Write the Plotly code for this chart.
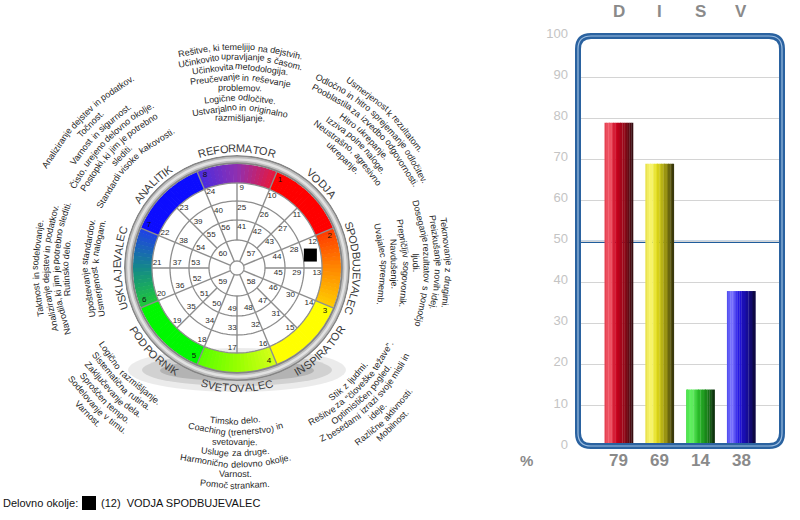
import math
import plotly.graph_objects as go

W, H = 800, 520
FONT = "Liberation Sans, Arial, sans-serif"

# ---------------- DISC bar chart data ----------------
categories = ["D", "I", "S", "V"]
values = [79, 69, 14, 38]
y_ticks = [0, 10, 20, 30, 40, 50, 60, 70, 80, 90, 100]
reference_level = 50
percent_label = "%"

# ---------------- wheel data ----------------
ring1_numbers = [9, 10, 11, 12, 13, 14, 15, 16, 17, 18, 19, 20, 21, 22, 23, 24]
ring2_numbers = [25, 26, 27, 28, 29, 30, 31, 32, 33, 34, 35, 36, 37, 38, 39, 40]
ring3_numbers = [41, 42, 43, 44, 45, 46, 47, 48, 49, 50, 51, 52, 53, 54, 55, 56]
ring4_numbers = [57, 58, 59, 60]
sector_numbers = [1, 2, 3, 4, 5, 6, 7, 8]
sector_roles = ["VODJA", "SPODBUJEVALEC", "INSPIRATOR", "SVETOVALEC",
                "PODPORNIK", "USKLAJEVALEC", "ANALITIK", "REFORMATOR"]

desc_vodja = ["Usmerjenost k rezultatom.", "Odločno in hitro sprejemanje odločitev.",
              "Pooblastila za izvedbo odgovornosti.", "Hitro ukrepanje.",
              "Izziva polne naloge.", "Neustrašno, agresivno", "ukrepanje."]
desc_spodbujevalec = ["Tekmovanje z drugimi.", "Preizkušanje novih idej.",
                      "Doseganje rezultatov s pomočjo", "ljudi.", "Prepričljiv sogovornik.",
                      "Navdušenje.", "Uvajalec sprememb."]
desc_inspirator = ["Stik z ljudmi.", "Rešitve za \"človeške težave\".", "Optimističen pogled.",
                   "Z besedami izrazi svoje misli in", "ideje.", "Različne aktivnosti.",
                   "Mobilnost."]
desc_svetovalec = ["Timsko delo.", "Coaching (trenerstvo) in", "svetovanje.",
                   "Usluge za druge.", "Harmonično delovno okolje.", "Varnost.",
                   "Pomoč strankam."]
desc_podpornik = ["Logično razmišljanje.", "Sistematična rutina.", "Zaključevanje dela.",
                  "Sproščen tempo.", "Sodelovanje v timu.", "Varnost."]
desc_usklajevalec = ["Taktnost in sodelovanje.", "Analiziranje dejstev in podatkov.",
                     "Navodila, ki jim je potrebno slediti.", "Rutinsko delo.", "",
                     "Upoštevanje standardov.", "Usmerjenost k nalogam."]
desc_analitik = ["Analiziranje dejstev in podatkov.", "Točnost.", "Varnost in sigurnost.",
                 "Čisto, urejeno delovno okolje.", "Postopki, ki jim je potrebno",
                 "slediti.", "Standardi visoke kakovosti."]
desc_reformator = ["Rešitve, ki temeljijo na dejstvih.", "Učinkovito upravljanje s časom.",
                   "Učinkovita metodologija.", "Preučevanje in reševanje", "problemov.",
                   "Logične odločitve.", "Ustvarjalno in originalno", "razmišljanje."]

result_position = 12
result_label = "VODJA SPODBUJEVALEC"
legend_title = "Delovno okolje:"

# ---------------- geometry / style ----------------
CX, CY = 237, 268
R_BEZEL, R_COLOR, R_WHITE = 113, 104, 85
GRID_RADII = [7, 28, 48, 67, 85]
NUM_R = [80, 60, 41.5, 20]
LABEL_R = 120

# per sector: first-line radius, line spacing, centre angle, facing
BLOCK_STYLE = [
    (217, 10.7, 46, "out"),
    (211, 10.8, 1.5, "out"),
    (160, 10.2, -45.5, "in"),
    (153, 10.7, -90.5, "in"),
    (154, 11.0, -135.5, "in"),
    (201, 10.0, 180, "out"),
    (216, 11.0, 135.5, "out"),
    (221, 10.2, 89, "out"),
]
sector_descriptions = [desc_vodja, desc_spodbujevalec, desc_inspirator, desc_svetovalec,
                       desc_podpornik, desc_usklajevalec, desc_analitik, desc_reformator]

# colours of the ring, from low angle to high angle inside each sector
SECTOR_GRAD = [
    ["#ff0000", "#ff0000", "#ff0000"],
    ["#ffcc00", "#ff8800", "#ff3a00"],
    ["#ffff00", "#ffff00", "#ffff00"],
    ["#58ff00", "#96ff00", "#d4ff18"],
    ["#00f800", "#00f800", "#00f800"],
    ["#2040e8", "#14888a", "#20c83a"],
    ["#0c0cff", "#0c0cff", "#0c0cff"],
    ["#e8183c", "#9030b0", "#4a2ce0"],
]

BAR_STOPS = {
    "D": [(0, "#e23a4c"), (0.18, "#f5606e"), (0.42, "#c8001c"), (0.72, "#8c0a18"), (1, "#2c0c10")],
    "I": [(0, "#e6de48"), (0.18, "#fbf978"), (0.42, "#e2dc1c"), (0.72, "#9a9410"), (1, "#2e2c0c")],
    "S": [(0, "#3ad83a"), (0.18, "#66f466"), (0.42, "#2cc02c"), (0.72, "#1a861a"), (1, "#0e280e")],
    "V": [(0, "#4a48ee"), (0.18, "#7b74ff"), (0.42, "#2214e0"), (0.72, "#160c98"), (1, "#0c0838")],
}

# Arial widths (1/1000 em)
AW = {" ": 278, ".": 278, ",": 278, ":": 278, "\"": 355, "(": 333, ")": 333, "-": 333}
for ch in "abdeghnopqu0123456789":
    AW[ch] = 556
for ch in "cksvxyzčšžć":
    AW[ch] = 500
AW.update({"f": 278, "t": 278, "i": 222, "j": 222, "l": 222, "r": 333, "m": 833, "w": 722})
AW.update({"A": 667, "B": 667, "C": 722, "D": 722, "E": 667, "F": 611, "G": 778, "H": 722,
           "I": 278, "J": 500, "K": 667, "L": 556, "M": 833, "N": 722, "O": 778, "P": 667,
           "R": 722, "S": 667, "T": 611, "U": 722, "V": 667, "Z": 611, "Č": 722, "Š": 667})


def text_width(s, size):
    return sum(AW.get(ch, 556) for ch in s) * size / 1000.0


def hex2rgb(h):
    h = h.lstrip("#")
    return [int(h[i:i + 2], 16) for i in (0, 2, 4)]


def mix(c1, c2, t):
    a, b = hex2rgb(c1), hex2rgb(c2)
    return "rgb(%d,%d,%d)" % tuple(round(a[i] + (b[i] - a[i]) * t) for i in range(3))


def interp_stops(stops, t):
    for (t0, c0), (t1, c1) in zip(stops[:-1], stops[1:]):
        if t <= t1:
            return mix(c0, c1, (t - t0) / (t1 - t0))
    return stops[-1][1]


def px2paper(x, y):
    return x / W, 1 - y / H


def norm_angle(a):
    while a > 180:
        a -= 360
    while a <= -180:
        a += 360
    return a


annotations = []
shapes = []


def add_arc_text(text, r, phi_c, facing, size, color, per_char=False):
    units = list(text) if per_char else text.split(" ")
    gap = 0 if per_char else AW[" "] * size / 1000.0
    widths = [text_width(u, size) for u in units]
    total = sum(widths) + gap * (len(units) - 1)
    s = -total / 2
    for u, wd in zip(units, widths):
        mid = s + wd / 2
        s += wd + gap
        if u.strip() == "":
            continue
        dphi = math.degrees(mid / r)
        if facing == "out":
            phi = phi_c - dphi
            rot = 90 - phi
        else:
            phi = phi_c + dphi
            rot = -90 - phi
        x = CX + r * math.cos(math.radians(phi))
        y = CY - r * math.sin(math.radians(phi))
        px, py = px2paper(x, y)
        annotations.append(dict(x=px, y=py, xref="paper", yref="paper", text=u,
                                showarrow=False, textangle=norm_angle(rot),
                                xanchor="center", yanchor="middle",
                                font=dict(family=FONT, size=size, color=color)))


fig = go.Figure()

# ---------------- wheel: shadow ----------------
for (x0, y0, x1, y1, op) in [(128, 348, 346, 392, 0.08), (142, 354, 332, 386, 0.11),
                             (160, 360, 314, 381, 0.14)]:
    a0 = px2paper(x0, y1)
    a1 = px2paper(x1, y0)
    shapes.append(dict(type="circle", xref="paper", yref="paper", x0=a0[0], y0=a0[1],
                       x1=a1[0], y1=a1[1], fillcolor="rgba(0,0,0,%.2f)" % op,
                       line=dict(width=0), layer="below"))

# ---------------- wheel: coloured ring ----------------
seg_theta, seg_color = [], []
NSEG = 20
for k in range(8):
    centre = 45 - 45 * k
    lo = centre - 22.5
    g = SECTOR_GRAD[k]
    stops = [(0, g[0]), (0.5, g[1]), (1, g[2])]
    for j in range(NSEG):
        t = (j + 0.5) / NSEG
        seg_theta.append(lo + t * 45)
        seg_color.append(interp_stops(stops, t))
fig.add_trace(go.Barpolar(theta=seg_theta, r=[R_COLOR - R_WHITE] * len(seg_theta),
                          base=R_WHITE, width=45 / NSEG + 0.35,
                          marker=dict(color=seg_color, line=dict(width=0)),
                          hoverinfo="skip", showlegend=False))

# bezel
for base, top, col in [(R_COLOR, R_BEZEL, "#858585"), (R_COLOR + 1.8, R_BEZEL - 1.6, "#bdbdbd"),
                       (R_COLOR + 3.4, R_BEZEL - 3.2, "#e2e2e2")]:
    fig.add_trace(go.Barpolar(theta=[0], r=[top - base], base=base, width=[360],
                              marker=dict(color=col, line=dict(width=0)),
                              hoverinfo="skip", showlegend=False))

# grid circles
circ_theta = [i * 2 for i in range(181)]
for rr in GRID_RADII:
    fig.add_trace(go.Scatterpolar(r=[rr] * len(circ_theta), theta=circ_theta, mode="lines",
                                  line=dict(color="#8e8e8e", width=1.3),
                                  hoverinfo="skip", showlegend=False))

# spokes: odd spokes reach the centre circle and the ring edge, even ones start at ring 2
sp_r, sp_t = [], []
for k in range(16):
    ang = 22.5 * k
    if k % 2 == 1:
        inner, outer = GRID_RADII[0], R_COLOR
    else:
        inner, outer = GRID_RADII[1], R_WHITE
    sp_r += [inner, outer, None]
    sp_t += [ang, ang, None]
fig.add_trace(go.Scatterpolar(r=sp_r, theta=sp_t, mode="lines",
                              line=dict(color="#8e8e8e", width=1.4),
                              hoverinfo="skip", showlegend=False, connectgaps=False))

# numbers
num_r, num_t, num_s = [], [], []
for ring, rr in zip([ring1_numbers, ring2_numbers, ring3_numbers], NUM_R[:3]):
    for k, n in enumerate(ring):
        spoke = 90 - 22.5 * k
        num_r.append(rr)
        num_t.append(spoke - math.degrees(4.8 / rr))
        num_s.append(str(n))
for k, n in enumerate(ring4_numbers):
    num_r.append(NUM_R[3])
    num_t.append(45 - 90 * k)
    num_s.append(str(n))
fig.add_trace(go.Scatterpolar(r=num_r, theta=num_t, text=num_s, mode="text",
                              textfont=dict(family=FONT, size=8, color="#2a2a2a"),
                              hoverinfo="skip", showlegend=False))

sec_r, sec_t, sec_s = [], [], []
for k, n in enumerate(sector_numbers):
    sec_r.append(98)
    sec_t.append(67.5 - 45 * k - 3.5)
    sec_s.append(str(n))
fig.add_trace(go.Scatterpolar(r=sec_r, theta=sec_t, text=sec_s, mode="text",
                              textfont=dict(family=FONT, size=8, color="#111111"),
                              hoverinfo="skip", showlegend=False))

# result marker in the cell of result_position
all_rings = [ring1_numbers, ring2_numbers, ring3_numbers]
for ri, ring in enumerate(all_rings):
    if result_position in ring:
        idx = ring.index(result_position)
        inner, outer = GRID_RADII[3 - ri], GRID_RADII[4 - ri]
        fig.add_trace(go.Scatterpolar(r=[(inner + outer) / 2 - 1.5],
                                      theta=[90 - 22.5 * idx - 12.5], mode="markers",
                                      marker=dict(symbol="square", size=13, color="#000000"),
                                      hoverinfo="skip", showlegend=False))

# role labels and descriptions
for k, role in enumerate(sector_roles):
    centre = 45 - 45 * k
    facing = "in" if k in (2, 3, 4) else "out"
    add_arc_text(role, LABEL_R, centre, facing, 11, "#3a3a3a", per_char=True)
    r0, sp, phi, fc = BLOCK_STYLE[k]
    for i, line in enumerate(sector_descriptions[k]):
        rr = r0 - i * sp if fc == "out" else r0 + i * sp
        add_arc_text(line, rr, phi, fc, 9, "#262626")

# legend line at the bottom
lx, ly = px2paper(1, 503)
annotations.append(dict(x=lx, y=ly, xref="paper", yref="paper", text=legend_title,
                        showarrow=False, xanchor="left", yanchor="middle",
                        font=dict(family=FONT, size=11, color="#111111")))
q0 = px2paper(82, 510)
q1 = px2paper(96, 496)
shapes.append(dict(type="rect", xref="paper", yref="paper", x0=q0[0], y0=q0[1], x1=q1[0],
                   y1=q1[1], fillcolor="#000000", line=dict(width=0)))
tx, ty = px2paper(99, 503)
annotations.append(dict(x=tx, y=ty, xref="paper", yref="paper",
                        text="(%d)\u00a0\u00a0%s" % (result_position, result_label),
                        showarrow=False, xanchor="left", yanchor="middle",
                        font=dict(family=FONT, size=11, color="#111111")))

# ---------------- bar chart ----------------
NSL = 16
BW = 0.7
sw = BW / NSL
for i in range(NSL):
    t = (i + 0.5) / NSL
    fig.add_trace(go.Bar(x=categories, y=values, width=sw * 1.12, offset=-BW / 2 + i * sw,
                         marker=dict(color=[interp_stops(BAR_STOPS[c], t) for c in categories],
                                     line=dict(width=0)),
                         hoverinfo="skip", showlegend=False))

BX0, BX1 = 578, 782
BY_TOP, BY_BOT = 36.6, 447
fig.update_layout(
    xaxis=dict(domain=[BX0 / W, BX1 / W], type="category", range=[-1.0, 4.0],
               showticklabels=False, showgrid=False, zeroline=False, showline=False,
               fixedrange=True, automargin=False),
    yaxis=dict(domain=[1 - BY_BOT / H, 1 - BY_TOP / H], range=[0, 100], tickvals=y_ticks,
               tickfont=dict(family=FONT, size=13, color="#c4c4c4"), showgrid=True,
               gridcolor="#d4d4d4", gridwidth=1, zeroline=False, showline=False, ticks="",
               ticklabelstandoff=9, ticklabelshift=-3, fixedrange=True, automargin=False),
    barmode="overlay",
)

# 50 % line
shapes.append(dict(type="line", xref="x domain", yref="y", x0=0, x1=1, y0=reference_level,
                   y1=reference_level, line=dict(color="#1f5c9c", width=2.2), layer="below"))


def rounded_path(x0, y0, x1, y1, r):
    def P(x, y):
        a, b = px2paper(x, y)
        return "%.5f,%.5f" % (a, b)
    return ("M" + P(x0 + r, y0) + " L" + P(x1 - r, y0) + " Q" + P(x1, y0) + " " + P(x1, y0 + r) +
            " L" + P(x1, y1 - r) + " Q" + P(x1, y1) + " " + P(x1 - r, y1) +
            " L" + P(x0 + r, y1) + " Q" + P(x0, y1) + " " + P(x0, y1 - r) +
            " L" + P(x0, y0 + r) + " Q" + P(x0, y0) + " " + P(x0 + r, y0) + " Z")


frame = rounded_path(578, 36, 782, 446, 13)
shapes.append(dict(type="path", xref="paper", yref="paper", path=frame,
                   line=dict(color="#2a62a0", width=6)))
shapes.append(dict(type="path", xref="paper", yref="paper", path=frame,
                   line=dict(color="#9cbde0", width=1.2)))

for c, v in zip(categories, values):
    annotations.append(dict(x=c, xref="x", y=1 - 11.7 / H, yref="paper", text="<b>%s</b>" % c,
                            showarrow=False, xanchor="center", yanchor="middle",
                            font=dict(family=FONT, size=17, color="#8a8a8a")))
    annotations.append(dict(x=c, xref="x", y=1 - 460 / H, yref="paper", text="<b>%d</b>" % v,
                            showarrow=False, xanchor="center", yanchor="middle",
                            font=dict(family=FONT, size=17, color="#8a8a8a")))
pcx, pcy = px2paper(526, 460)
annotations.append(dict(x=pcx, y=pcy, xref="paper", yref="paper",
                        text="<b>%s</b>" % percent_label, showarrow=False,
                        xanchor="center", yanchor="middle",
                        font=dict(family=FONT, size=15, color="#8a8a8a")))

fig.update_layout(
    width=W, height=H, margin=dict(l=0, r=0, t=0, b=0, pad=0, autoexpand=False),
    paper_bgcolor="white", plot_bgcolor="white", showlegend=False,
    polar=dict(domain=dict(x=[(CX - R_BEZEL) / W, (CX + R_BEZEL) / W],
                           y=[(H - CY - R_BEZEL) / H, (H - CY + R_BEZEL) / H]),
               radialaxis=dict(visible=False, range=[0, R_BEZEL]),
               angularaxis=dict(visible=False),
               bgcolor="rgba(0,0,0,0)", barmode="overlay"),
    annotations=annotations, shapes=shapes,
)

fig.write_html("out.html", config={"displayModeBar": False},
               post_script="document.body.style.margin='0px';")
